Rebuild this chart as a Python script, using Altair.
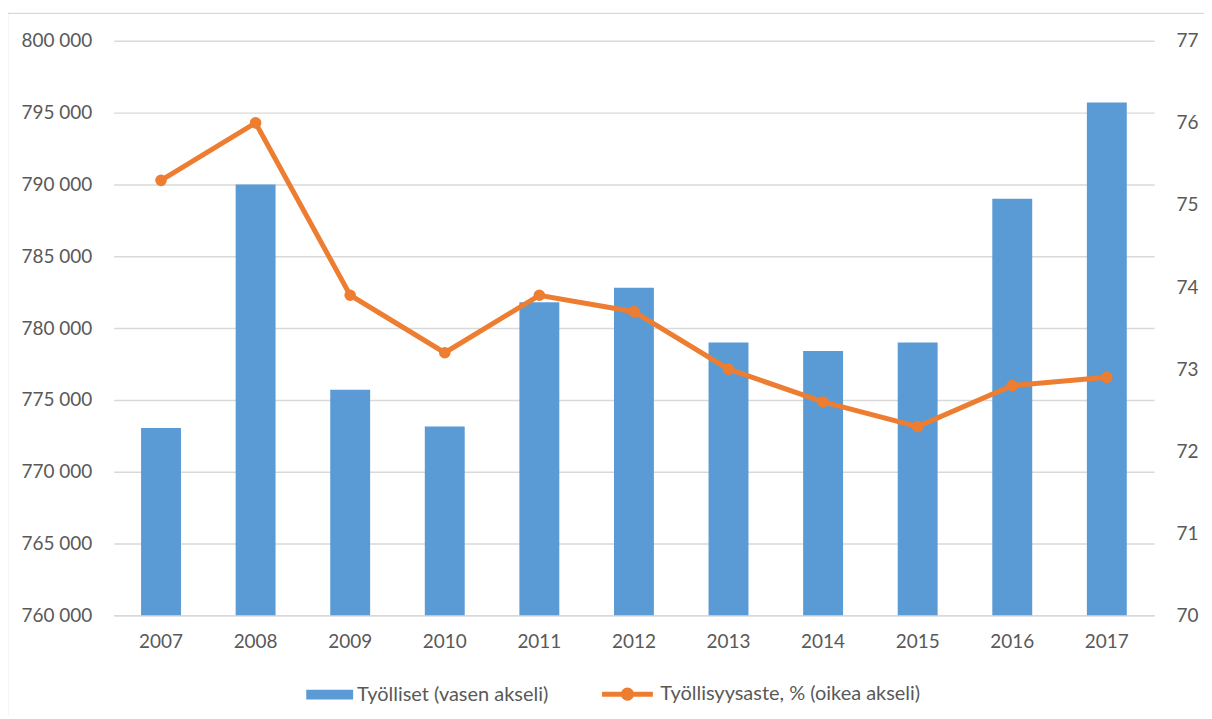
import altair as alt
import pandas as pd

years = ["2007", "2008", "2009", "2010", "2011", "2012", "2013", "2014", "2015", "2016", "2017"]
tyolliset = [773050, 790000, 775700, 773150, 781800, 782800, 779000, 778400, 779000, 789000, 795700]
aste = [75.3, 76.0, 73.9, 73.2, 73.9, 73.7, 73.0, 72.6, 72.3, 72.8, 72.9]
left_ticks = [760000, 765000, 770000, 775000, 780000, 785000, 790000, 795000, 800000]
right_ticks = [70, 71, 72, 73, 74, 75, 76, 77]
bar_label = "Työlliset (vasen akseli)"
line_label = "Työllisyysaste, % (oikea akseli)"

BLUE = "#5B9BD5"
ORANGE = "#ED7D31"
GRID = "#D9D9D9"
TXT = "#595959"
FONT = "Lato"

df = pd.DataFrame({
    "year": years,
    "tyolliset": tyolliset,
    "aste": aste,
    "s1": [bar_label] * len(years),
    "s2": [line_label] * len(years),
})

base = alt.Chart(df)
xenc = alt.X("year:N", sort=years, title=None,
             scale=alt.Scale(paddingInner=0.578, paddingOuter=0.289),
             axis=alt.Axis(labelAngle=0, ticks=False, domain=True, domainColor=GRID,
                           domainWidth=1.5, labelPadding=17, grid=False))

bars = base.mark_bar(color=BLUE).encode(
    x=xenc,
    y=alt.Y("tyolliset:Q", title=None,
            scale=alt.Scale(domain=[760000, 800000], zero=False, nice=False, clamp=True),
            axis=alt.Axis(values=left_ticks, grid=True, gridColor=GRID, gridWidth=1.5,
                          domain=False, ticks=False, labelPadding=22,
                          labelExpr="replace(format(datum.value, ','), ',', ' ')")),
    y2=alt.datum(760000),
    fill=alt.Fill("s1:N", scale=alt.Scale(domain=[bar_label], range=[BLUE]),
                  legend=alt.Legend(title=None, orient="none", legendX=193, legendY=632,
                                    symbolType="M-1,-0.21H1V0.21H-1Z", symbolSize=2209,
                                    symbolStrokeWidth=0, symbolOpacity=1, padding=0,
                                    labelLimit=0, labelOffset=4)),
)

line = base.mark_line(strokeWidth=5, color=ORANGE).encode(
    x=alt.X("year:N", sort=years),
    y=alt.Y("aste:Q", title=None,
            scale=alt.Scale(domain=[70, 77], zero=False, nice=False),
            axis=alt.Axis(orient="right", values=right_ticks, grid=False, domain=False,
                          ticks=False, labelPadding=22)),
    stroke=alt.Stroke("s2:N", scale=alt.Scale(domain=[line_label], range=[ORANGE]),
                      legend=alt.Legend(title=None, orient="none", legendX=487, legendY=627,
                                        symbolType="M-1,0H1M-0.16,0A0.16,0.16 0 1,1 0.16,0A0.16,0.16 0 1,1 -0.16,0",
                                        symbolSize=2601, symbolStrokeWidth=5,
                                        symbolFillColor=ORANGE, padding=0,
                                        labelLimit=0, labelOffset=5)),
)

pts = base.mark_circle(size=135, color=ORANGE, opacity=1).encode(
    x=alt.X("year:N", sort=years),
    y=alt.Y("aste:Q", scale=alt.Scale(domain=[70, 77], zero=False, nice=False), axis=None),
)

frame_df = pd.DataFrame({"k": [0]})
top_border = alt.Chart(frame_df).mark_rule(color=GRID, strokeWidth=1.5).encode(
    x=alt.value(-107), x2=alt.value(1200), y=alt.value(-27.5))
left_border = alt.Chart(frame_df).mark_rule(color=GRID, strokeWidth=1.5).encode(
    x=alt.value(-106.5), y=alt.value(-28), y2=alt.value(720))

chart = alt.layer(bars, line, pts, top_border, left_border).resolve_scale(
    y="independent", fill="independent", stroke="independent"
).properties(
    width=1043, height=576,
    autosize=alt.AutoSizeParams(type="none"),
    padding={"left": 106, "top": 32, "right": 50, "bottom": 100},
).configure_view(stroke=None).configure_axis(
    labelFont=FONT, labelFontSize=19, labelColor=TXT
).configure_legend(
    labelFont=FONT, labelFontSize=20, labelColor=TXT
)

chart.save("out.html", embed_options={"renderer": "svg", "actions": False})
